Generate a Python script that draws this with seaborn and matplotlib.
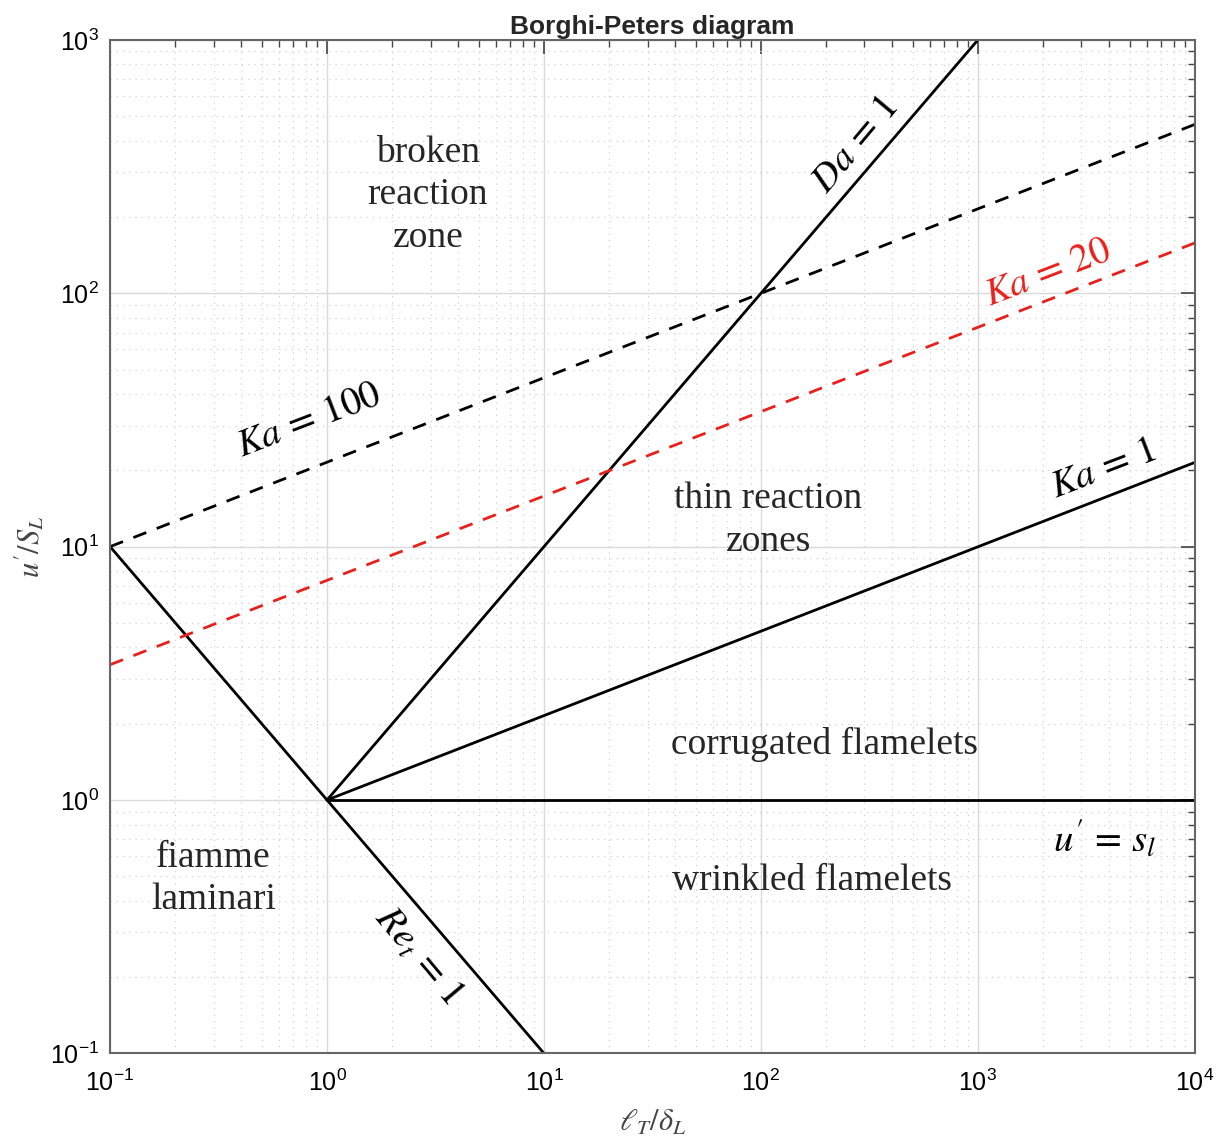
"""Borghi-Peters regime diagram redrawn with seaborn on log-log axes."""

import matplotlib
import pandas as pd

matplotlib.use("Agg")
import matplotlib.pyplot as plt
import seaborn as sns


# Line endpoints (straight lines on log-log axes)
RE_X = [0.1, 10]
RE_Y = [10, 0.1]
DA_X = [1, 1000]
DA_Y = [1, 1000]
KA1_X = [1, 10000]
KA1_Y = [1, 21.5]
KA100_X = [0.1, 10000]
KA100_Y = [10, 464]
KA20_X = [0.1, 10000]
KA20_Y = [3.42, 158]
US_X = [1, 10000]
US_Y = [1, 1]

REGION_LABELS = [
    "broken\nreaction\nzone",
    "thin reaction\nzones",
    "corrugated flamelets",
    "wrinkled flamelets",
    "fiamme\nlaminari",
]
REGION_X = [2.92, 108, 197, 172, 0.30]
REGION_Y = [244, 12.7, 1.66, 0.479, 0.488]


def build_lines():
    rows = []
    for name, xs, ys in [
        ("Re", RE_X, RE_Y),
        ("Da", DA_X, DA_Y),
        ("Ka1", KA1_X, KA1_Y),
        ("Ka100", KA100_X, KA100_Y),
        ("Ka20", KA20_X, KA20_Y),
        ("us", US_X, US_Y),
    ]:
        for x, y in zip(xs, ys):
            rows.append({"line": name, "x": x, "y": y})
    return pd.DataFrame(rows)


def main():
    sns.set_theme(style="white")
    plt.rcParams["font.family"] = ["Liberation Sans", "DejaVu Sans"]
    plt.rcParams["mathtext.fontset"] = "stix"
    plt.rcParams["axes.unicode_minus"] = False

    df = build_lines()

    fig = plt.figure(figsize=(12.23, 11.4), dpi=100)
    ax = fig.add_axes([0.090, 0.076, 0.887, 0.889])
    ax.set_xscale("log")
    ax.set_yscale("log")

    styles = {
        "Re": ("black", "-"),
        "Da": ("black", "-"),
        "Ka1": ("black", "-"),
        "us": ("black", "-"),
        "Ka100": ("black", (0, (5, 4))),
        "Ka20": ("#e8201c", (0, (5, 4))),
    }
    for name, (color, ls) in styles.items():
        sub = df[df["line"] == name]
        sns.lineplot(data=sub, x="x", y="y", ax=ax, color=color,
                     linestyle=ls, linewidth=2.0, sort=False)

    ax.set_xlim(0.1, 1e4)
    ax.set_ylim(0.1, 1e3)

    ax.grid(True, which="major", color="#dadada", linewidth=1.0)
    ax.grid(True, which="minor", color="#d2d2d2", linewidth=0.9, linestyle=(0, (1, 4)))
    ax.tick_params(which="both", direction="in", top=True, right=True,
                   colors="#444444", labelcolor="black", labelsize=18)
    ax.tick_params(which="major", length=10, width=1.2)
    ax.tick_params(which="minor", length=5, width=1.0)
    ax.tick_params(axis="x", which="major", pad=12)
    ax.tick_params(axis="y", which="major", pad=8)
    for spine in ax.spines.values():
        spine.set_color("#666666")
        spine.set_linewidth(1.5)

    ax.set_title("Borghi-Peters diagram", fontsize=19, fontweight="bold", pad=4)
    ax.set_xlabel(r"$\ell_T/\delta_L$", fontsize=22, color="#444444", labelpad=8)
    ax.set_ylabel(r"$u'/S_L$", fontsize=22, color="#444444", labelpad=2)

    serif = ["Liberation Serif", "DejaVu Serif"]
    for label, x, y in zip(REGION_LABELS, REGION_X, REGION_Y):
        ax.text(x, y, label, fontsize=27, family=serif, ha="center",
                va="center", linespacing=1.3)

    line_labels = [
        (r"$Da\,=\,1$", 270, 385, 50, "black"),
        (r"$Ka\,=\,100$", 0.82, 31.5, 21, "black"),
        (r"$Ka\,=\,20$", 2090, 121, 21, "#e8201c"),
        (r"$Ka\,=\,1$", 3770, 20.3, 21, "black"),
        (r"$Re_t\,=\,1$", 2.62, 0.241, -50, "black"),
        (r"$u^{\prime}\,=\,s_l$", 3850, 0.70, 0, "black"),
    ]
    for text, x, y, rot, color in line_labels:
        ax.text(x, y, text, fontsize=28, color=color, rotation=rot,
                ha="center", va="center", rotation_mode="anchor")

    fig.savefig("out.png", dpi=100)
    plt.close(fig)


if __name__ == "__main__":
    main()
